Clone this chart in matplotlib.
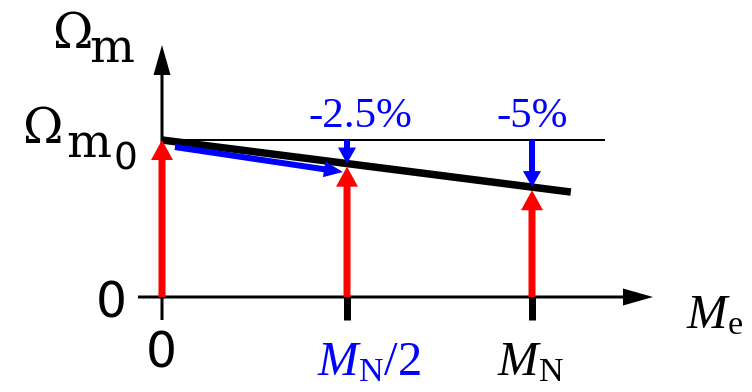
import numpy as np
import matplotlib
matplotlib.use("Agg")
import matplotlib.pyplot as plt
from matplotlib.patches import FancyArrowPatch, ArrowStyle

# ============================================
# 1. DATA
# ============================================
load_pts = np.array([0.0, 0.5, 1.0])        # M_e / M_N
drop_pct = np.array([0.0, 2.5, 5.0])        # speed drop at each load (%)
drop_labels = ["-2.5%", "-5%"]
stretch = 6.0                               # schematic exaggeration of the droop

speed = 1.0 - stretch * drop_pct / 100.0    # Omega_m / Omega_m0 (drawn)
line_x = np.array([0.0, 1.105])
line_y = 1.0 - stretch * 0.05 * line_x

# blue arrow showing the operating point moving along the characteristic
move_start = (0.035, 0.955)
move_end = (0.489, 0.796)

# ============================================
# 2. FIGURE / SCALE
# ============================================
PX_X = 370.0   # pixels per unit of load
PX_Y = 157.0   # pixels per unit of speed
X0, Y0 = 162.0, 297.0   # origin in pixels
PT = 0.72      # points per pixel at 100 dpi

fig = plt.figure(figsize=(7.52, 3.92), dpi=100)
ax = fig.add_axes([0, 0, 1, 1])
ax.set_xlim(-X0 / PX_X, (752 - X0) / PX_X)
ax.set_ylim((Y0 - 392) / PX_Y, Y0 / PX_Y)
ax.axis("off")


def px(x, y):
    return (x - X0) / PX_X, (Y0 - y) / PX_Y


def arrow(start, end, color, tail, head_len, head_w, z):
    style = ArrowStyle.Simple(head_length=head_len * PT, head_width=head_w * PT,
                              tail_width=tail * PT)
    ax.add_patch(FancyArrowPatch(start, end, arrowstyle=style, mutation_scale=1,
                                 color=color, lw=0, shrinkA=0, shrinkB=0, zorder=z))


# ============================================
# 3. AXES
# ============================================
arrow(px(138, Y0), px(653, Y0), "black", 3, 30, 17, 2)
arrow(px(X0, 320), px(X0, 45), "black", 3, 30, 17, 2)
for xt in load_pts[1:]:
    ax.plot([xt, xt], [0, -23 / PX_Y], color="black", lw=7 * PT,
            solid_capstyle="butt", zorder=2)

# no-load speed reference and the speed characteristic
ax.plot([0, 1.195], [1.0, 1.0], color="black", lw=2 * PT, zorder=3)
ax.plot(line_x, line_y, color="black", lw=7.5 * PT, solid_capstyle="butt", zorder=4)

# ============================================
# 4. ARROWS
# ============================================
red_tip = speed - np.where(drop_pct > 0, 0.02, 0.0)
for xv, yt in zip(load_pts, red_tip):
    arrow((xv, 0.0), (xv, yt), "#ff0000", 7, 20, 22, 5)

for xv, yv in zip(load_pts[1:], speed[1:]):
    arrow((xv, 1.0), (xv, yv), "#0000ff", 6, 16, 18, 6)

arrow(move_start, move_end, "#0000ff", 6, 19, 16, 6)

# ============================================
# 5. TEXT
# ============================================
serif = "Liberation Serif"
plt.rcParams["mathtext.fontset"] = "custom"
plt.rcParams["mathtext.rm"] = serif
plt.rcParams["mathtext.it"] = serif + ":italic"

for xv, lab in zip([0.535, 1.0], drop_labels):
    ax.text(xv, px(0, 127)[1], lab, color="#0000ff", fontsize=31, family=serif,
            ha="center", va="baseline")

ax.text(*px(317, 375), r"$M_\mathrm{N}/2$", color="#0000ff", fontsize=35,
        ha="left", va="baseline")
ax.text(*px(497, 375), r"$M_\mathrm{N}$", color="black", fontsize=35,
        ha="left", va="baseline")
ax.text(*px(686, 328), r"$M_\mathrm{e}$", color="black", fontsize=35,
        ha="left", va="baseline")

ax.text(*px(161, 367), "0", fontsize=35, family="DejaVu Sans", ha="center", va="baseline")
ax.text(*px(111, 317), "0", fontsize=35, family="DejaVu Sans", ha="center", va="baseline")

# Omega_m axis label and Omega_m0 level
ax.text(*px(53, 48), "Ω", fontsize=35, family="DejaVu Serif", ha="left", va="baseline")
ax.text(*px(89, 62), "m", fontsize=34, family="DejaVu Serif", ha="left", va="baseline")
ax.text(*px(23, 143), "Ω", fontsize=35, family="DejaVu Serif", ha="left", va="baseline")
ax.text(*px(66, 157), "m", fontsize=34, family="DejaVu Serif", ha="left", va="baseline")
ax.text(*px(113, 170), "0", fontsize=27, family="DejaVu Sans", ha="left", va="baseline")

# tails of the formula above, mostly outside the frame
ax.text(*px(266, -27), "(", fontsize=35, family=serif, ha="left", va="baseline")
for xp in [668, 691]:
    ax.text(*px(xp, -27), ")", fontsize=35, family=serif, ha="left", va="baseline")

fig.savefig("out.png", dpi=100)
